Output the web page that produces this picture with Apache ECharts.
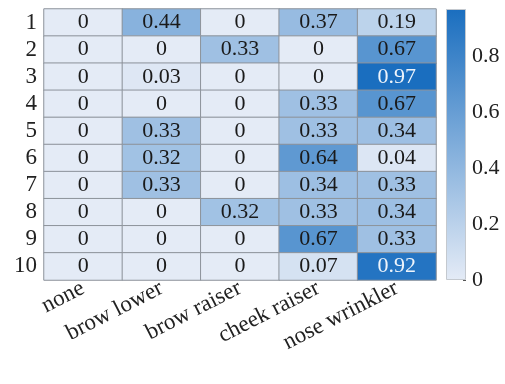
<!DOCTYPE html>
<html><head><meta charset="utf-8">
<script src="https://cdn.jsdelivr.net/npm/echarts@6/dist/echarts.min.js"></script>
<style>html,body{margin:0;padding:0;background:#fff}#c{width:505px;height:384px}</style>
</head><body><div id="c"></div>
<script>
const categories = ['none', 'brow lower', 'brow raiser', 'cheek raiser', 'nose wrinkler'];
const rowLabels = ['1','2','3','4','5','6','7','8','9','10'];
const row1 = [0, 0.44, 0, 0.37, 0.19];
const row2 = [0, 0, 0.33, 0, 0.67];
const row3 = [0, 0.03, 0, 0, 0.97];
const row4 = [0, 0, 0, 0.33, 0.67];
const row5 = [0, 0.33, 0, 0.33, 0.34];
const row6 = [0, 0.32, 0, 0.64, 0.04];
const row7 = [0, 0.33, 0, 0.34, 0.33];
const row8 = [0, 0, 0.32, 0.33, 0.34];
const row9 = [0, 0, 0, 0.67, 0.33];
const row10 = [0, 0, 0, 0.07, 0.92];
const colorbarTicks = [0, 0.2, 0.4, 0.6, 0.8];
const colorMax = 0.97;

const rows = [row1,row2,row3,row4,row5,row6,row7,row8,row9,row10];
const data = [];
rows.forEach((r, yi) => r.forEach((v, xi) => data.push([xi, yi, v])));

const LIGHT = '#e4ebf6', DARK = '#1a6ebf';
const font = 'Liberation Serif';
const chart = echarts.init(document.getElementById('c'));
chart.setOption({
  animation: false,
  textStyle: {fontFamily: font},
  grid: [
    {left: 44, top: 9, width: 392, height: 271},
    {left: 446, top: 9, width: 20, height: 271}
  ],
  xAxis: [
    {type: 'category', gridIndex: 0, data: categories, axisLine: {show: false}, axisTick: {show: false},
     axisLabel: {rotate: 27, fontSize: 23, color: '#222', fontFamily: font, margin: 7, interval: 0}},
    {type: 'category', gridIndex: 1, data: ['c'], show: false}
  ],
  yAxis: [
    {type: 'category', gridIndex: 0, data: rowLabels, inverse: true, axisLine: {show: false}, axisTick: {show: false},
     axisLabel: {fontSize: 23, color: '#222', fontFamily: font, margin: 7, interval: 0}},
    {type: 'value', gridIndex: 1, min: 0, max: colorMax, position: 'right',
     axisLine: {show: false}, splitLine: {show: false},
     axisTick: {show: true, inside: true, length: 3, lineStyle: {color: '#555'},
       customValues: colorbarTicks},
     axisLabel: {fontSize: 22, color: '#222', fontFamily: font, margin: 6,
       customValues: colorbarTicks, formatter: v => String(v)}}
  ],
  visualMap: {show: false, min: 0, max: colorMax, seriesIndex: 0, dimension: 2,
    inRange: {color: [LIGHT, DARK]}},
  series: [
    {type: 'heatmap', xAxisIndex: 0, yAxisIndex: 0,
     data: data.map(d => d[2] > 0.85 ? {value: d, label: {color: '#eef4fb'}} : d),
     itemStyle: {borderColor: '#8d939b', borderWidth: 1},
     emphasis: {disabled: true},
     label: {show: true, fontSize: 22, fontFamily: font,
       formatter: p => p.value[2] === 0 ? '0' : p.value[2].toFixed(2),
       color: '#1a1a1a'}
    },
    {type: 'bar', xAxisIndex: 1, yAxisIndex: 1, data: [colorMax], barWidth: '100%', silent: true,
     itemStyle: {borderColor: '#c4c9cf', borderWidth: 1,
       color: new echarts.graphic.LinearGradient(0, 0, 0, 1, [{offset: 0, color: DARK}, {offset: 1, color: LIGHT}])}}
  ]
});
</script></body></html>
